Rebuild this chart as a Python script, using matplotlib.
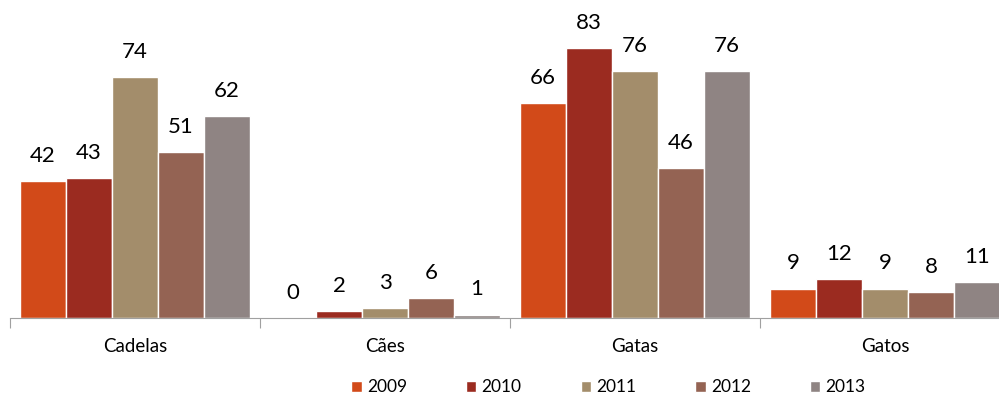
import numpy as np
import matplotlib.pyplot as plt

# categories and yearly series
categories = ['Cadelas', 'Cães', 'Gatas', 'Gatos']
years = ['2009', '2010', '2011', '2012', '2013']
v2009 = [42, 0, 66, 9]
v2010 = [43, 2, 83, 12]
v2011 = [74, 3, 76, 9]
v2012 = [51, 6, 46, 8]
v2013 = [62, 1, 76, 11]
series = [v2009, v2010, v2011, v2012, v2013]
colors = ['#D24A19', '#9B2B20', '#A38D6B', '#946353', '#8F8483']

plt.rcParams['font.family'] = ['Lato', 'DejaVu Sans']

fig = plt.figure(figsize=(9.99, 3.96), dpi=100)
# axis runs off the right edge like the original
ax = fig.add_axes([10 / 999, 1 - 318 / 396, 1000 / 999, 318 / 396])

x = np.arange(len(categories))
width = 0.184
for i, (vals, c, yr) in enumerate(zip(series, colors, years)):
    pos = x + (i - 2) * width
    bars = ax.bar(pos, vals, width, color=c, edgecolor='white', linewidth=1, label=yr)
    for b, v in zip(bars, vals):
        ax.annotate(str(v), (b.get_x() + b.get_width() / 2, v), xytext=(0, 11),
                    textcoords='offset points', ha='center', va='bottom', fontsize=16)

ax.set_xlim(-0.5, len(categories) - 0.5)
ax.set_ylim(0, 97.8)
ax.set_yticks([])
for s in ['top', 'right', 'left']:
    ax.spines[s].set_visible(False)
ax.spines['bottom'].set_color('#A0A0A0')
ax.set_xticks(np.arange(len(categories) + 1) - 0.5)
ax.set_xticklabels([])
ax.tick_params(axis='x', length=7, color='#A0A0A0')
for i, cat in enumerate(categories):
    ax.text(i, -6.3, cat, ha='center', va='top', fontsize=13.5)

fig.legend(loc='center', bbox_to_anchor=(0.609, 0.022), ncol=5, frameon=False,
           fontsize=12.5, handlelength=0.6, handleheight=0.6, columnspacing=3.4,
           handletextpad=0.3, borderpad=0.2)

fig.savefig('out.png', dpi=100)
